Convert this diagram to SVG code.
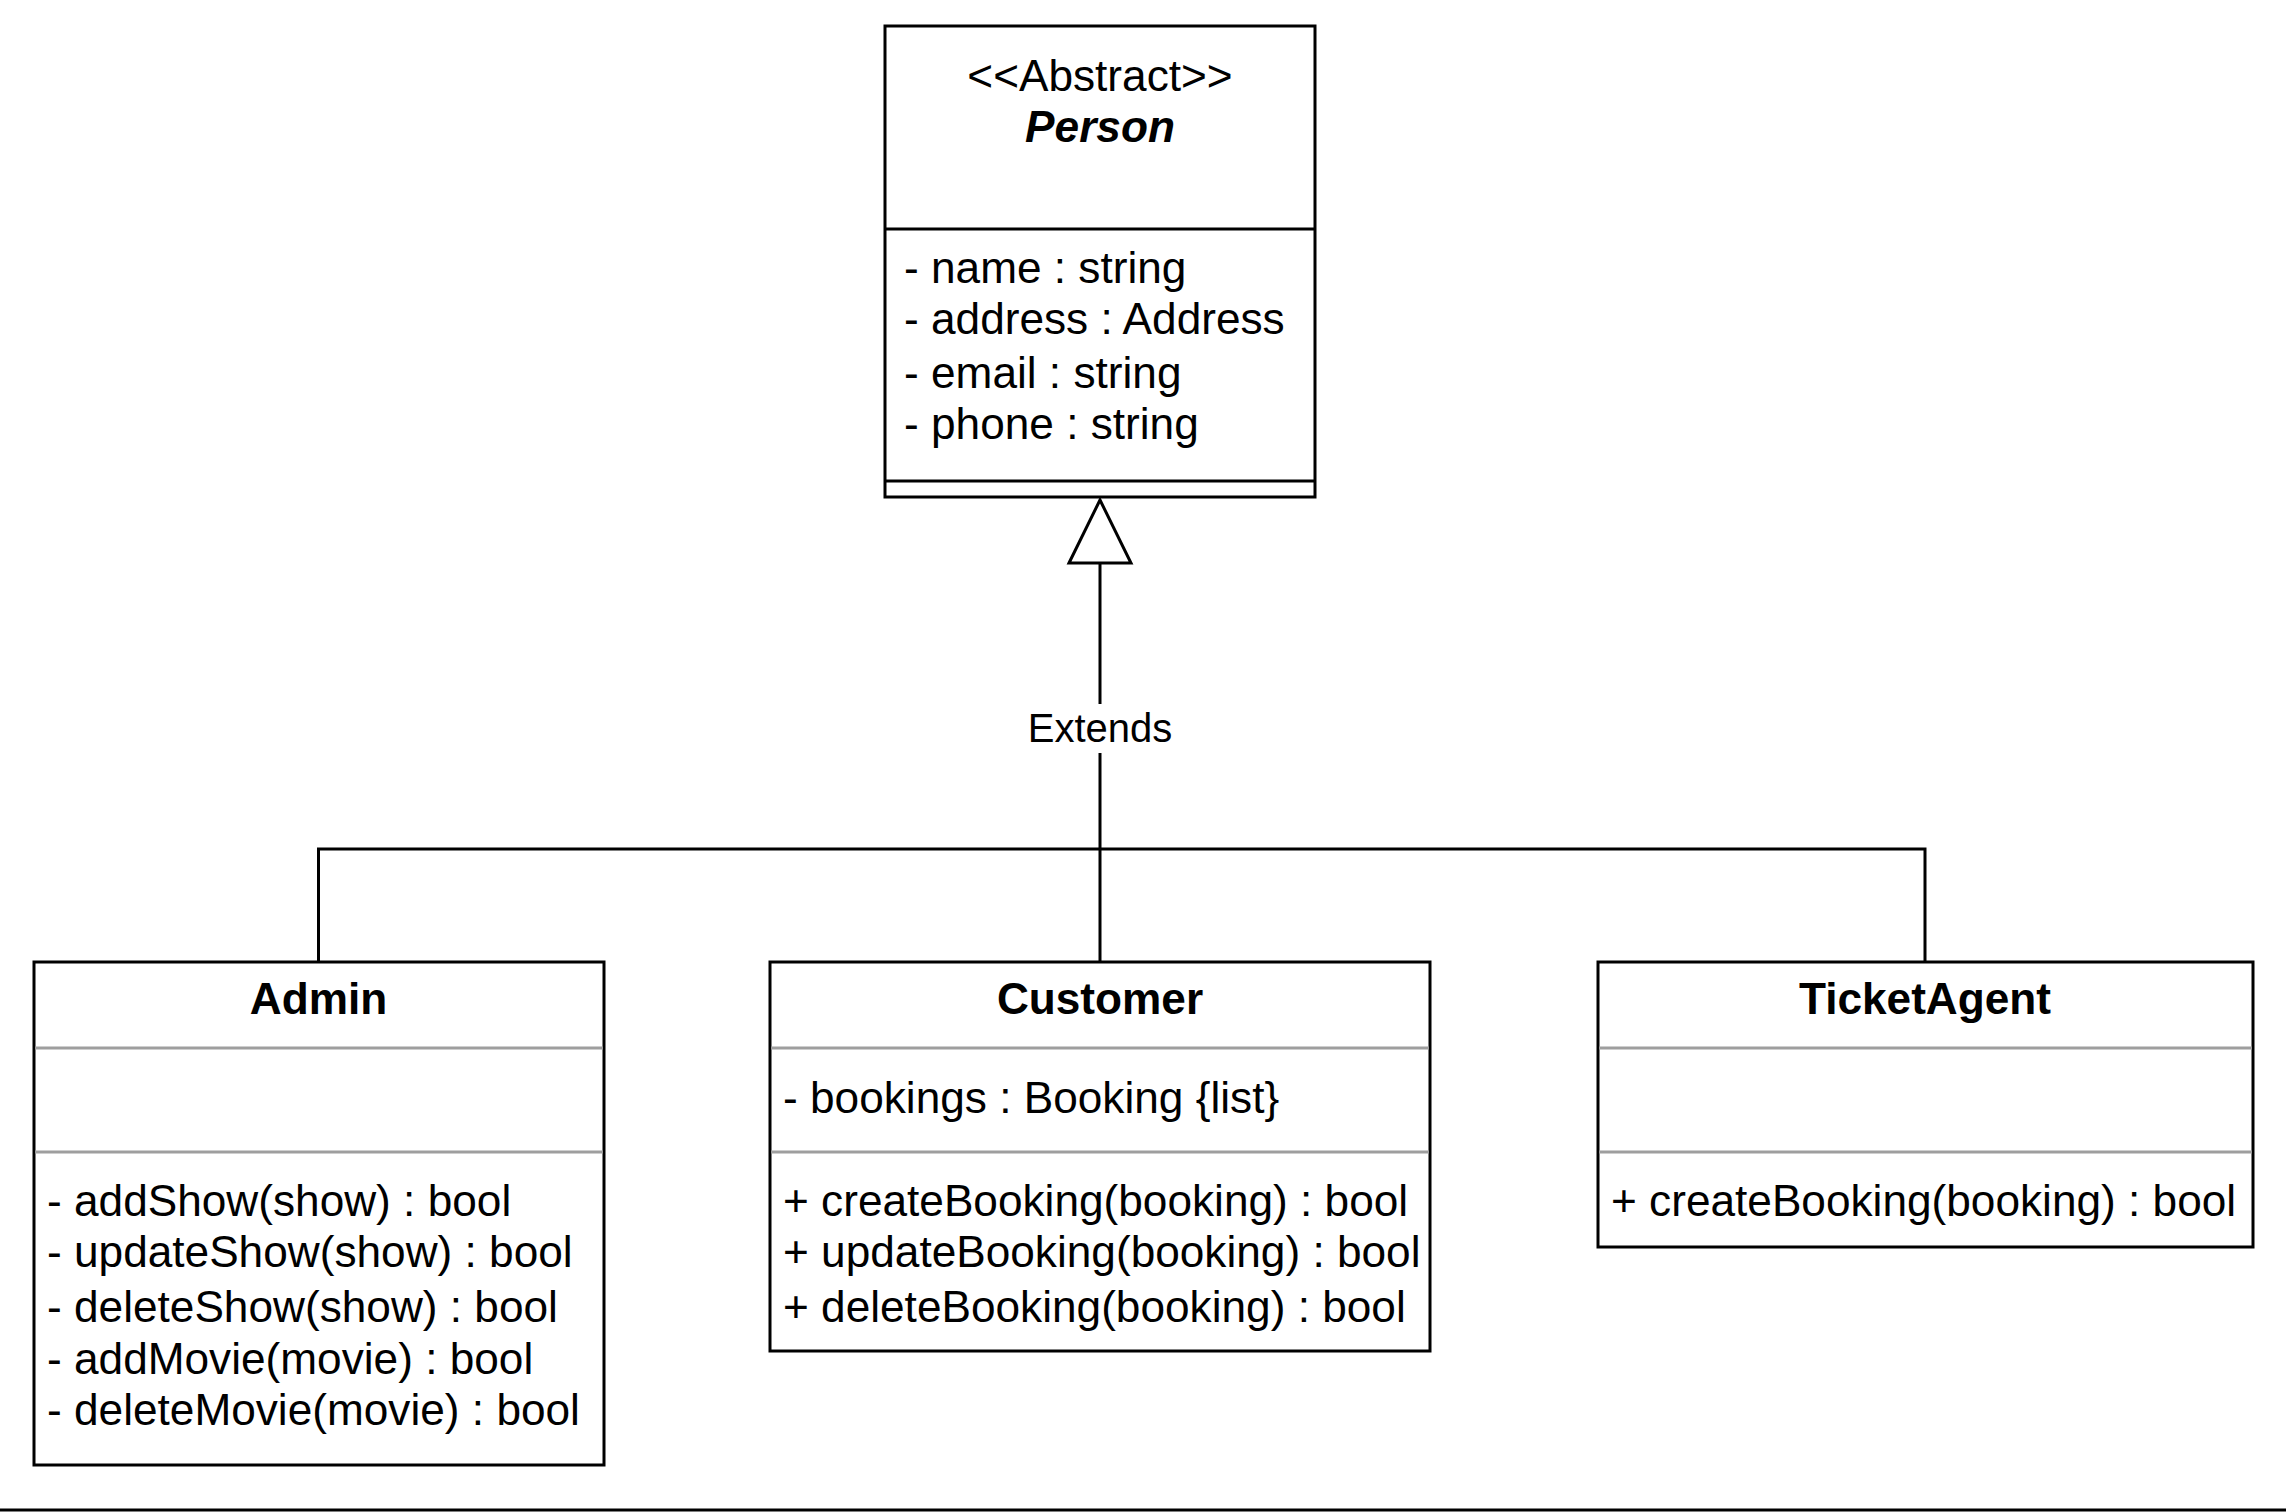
<svg xmlns="http://www.w3.org/2000/svg" width="2286" height="1512" viewBox="0 0 2286 1512">
<style>
.box{fill:#fff;stroke:#000;stroke-width:3}
.div{stroke:#000;stroke-width:3}
.gdiv{stroke:#9e9e9e;stroke-width:3}
.t{font-family:"Liberation Sans",Arial,sans-serif;font-size:44.2px;fill:#000}
.c{text-anchor:middle}
.b{font-weight:bold}
.conn{fill:none;stroke:#000;stroke-width:3}
.lbl{font-family:"Liberation Sans",Arial,sans-serif;font-size:40px;fill:#000;text-anchor:middle}
</style>
<rect width="2286" height="1512" fill="#fff"/>
<g id="connectors">
<path class="conn" d="M318.5 962 V849 H1925 V962"/>
<path class="conn" d="M1100 962 V753"/>
<path class="conn" d="M1100 704 V563"/>
<polygon points="1069,563 1100,500 1131,563" fill="#fff" stroke="#000" stroke-width="3"/>
<text class="lbl" x="1100" y="742">Extends</text>
</g>
<g id="person">
<rect class="box" x="885" y="26" width="430" height="471"/>
<line class="div" x1="885" y1="229" x2="1315" y2="229"/>
<line class="div" x1="885" y1="481" x2="1315" y2="481"/>
<text class="t c" x="1100" y="91">&lt;&lt;Abstract&gt;&gt;</text>
<text class="t c b" x="1100" y="142" font-style="italic">Person</text>
<text class="t" x="904" y="283">- name : string</text>
<text class="t" x="904" y="334">- address : Address</text>
<text class="t" x="904" y="388">- email : string</text>
<text class="t" x="904" y="439">- phone : string</text>
</g>
<g id="admin">
<rect class="box" x="34" y="962" width="570" height="503"/>
<line class="gdiv" x1="35" y1="1048" x2="603" y2="1048"/>
<line class="gdiv" x1="35" y1="1152" x2="603" y2="1152"/>
<text class="t c b" x="318.5" y="1014">Admin</text>
<text class="t" x="47" y="1216">- addShow(show) : bool</text>
<text class="t" x="47" y="1267">- updateShow(show) : bool</text>
<text class="t" x="47" y="1322">- deleteShow(show) : bool</text>
<text class="t" x="47" y="1374">- addMovie(movie) : bool</text>
<text class="t" x="47" y="1425">- deleteMovie(movie) : bool</text>
</g>
<g id="customer">
<rect class="box" x="770" y="962" width="660" height="389"/>
<line class="gdiv" x1="771" y1="1048" x2="1429" y2="1048"/>
<line class="gdiv" x1="771" y1="1152" x2="1429" y2="1152"/>
<text class="t c b" x="1100" y="1014">Customer</text>
<text class="t" x="783" y="1113">- bookings : Booking {list}</text>
<text class="t" x="783" y="1216">+ createBooking(booking) : bool</text>
<text class="t" x="783" y="1267">+ updateBooking(booking) : bool</text>
<text class="t" x="783" y="1322">+ deleteBooking(booking) : bool</text>
</g>
<g id="ticketagent">
<rect class="box" x="1598" y="962" width="655" height="285"/>
<line class="gdiv" x1="1599" y1="1048" x2="2252" y2="1048"/>
<line class="gdiv" x1="1599" y1="1152" x2="2252" y2="1152"/>
<text class="t c b" x="1925" y="1014">TicketAgent</text>
<text class="t" x="1611" y="1216">+ createBooking(booking) : bool</text>
</g>
<line x1="0" y1="1510" x2="2286" y2="1510" stroke="#000" stroke-width="3"/>
</svg>
